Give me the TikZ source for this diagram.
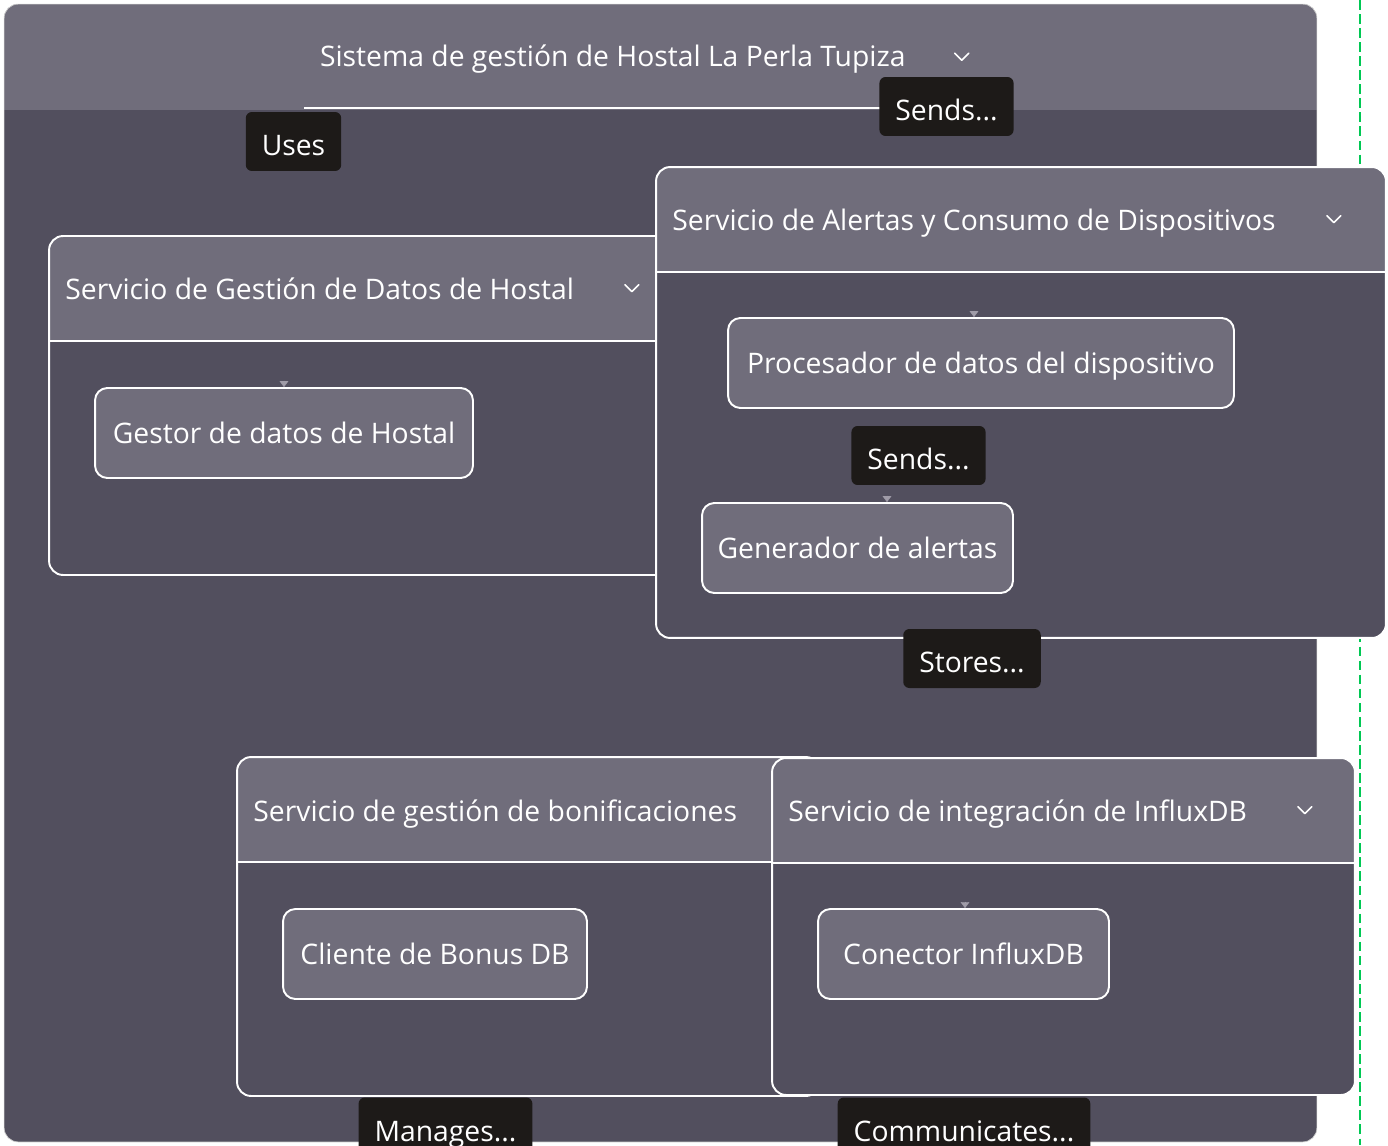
\documentclass[tikz,border=0pt]{standalone}
\usepackage{fontspec}
\setmainfont{Open Sans}
\usetikzlibrary{arrows.meta, calc}

\definecolor{hdrgray}{HTML}{706D7B}
\definecolor{bodygray}{HTML}{524F5E}
\definecolor{tagblack}{HTML}{1D1A18}
\definecolor{tipgray}{HTML}{A09CA8}
\definecolor{guidegreen}{HTML}{00C853}

\tikzset{
	chevron/.pic = {\draw[white, line width = 0.9pt, line cap = round, line join = round] (-7,-3.5) -- (0,3.5) -- (7,-3.5);}
}

\begin{document}
\begin{tikzpicture}[
			x = 0.02cm, y = -0.02cm,
			every node/.style = {font = \fontsize{16.1}{19}\selectfont, text = white, text height = 16.3pt, text depth = 4.8pt},
			systembox/.style = {fill = bodygray, rounded corners = 8pt, inner sep = 0pt,
				path picture = {
					\fill[hdrgray, sharp corners] (path picture bounding box.north west) rectangle ([yshift = -2.12cm]path picture bounding box.north east);
				}},
			groupframe/.style = {fill = bodygray, draw = white, line width = 1.1pt, rounded corners = 8pt, inner sep = 0pt,
				path picture = {
					\fill[hdrgray, sharp corners] (path picture bounding box.north west) rectangle ([yshift = -2.1cm]path picture bounding box.north east);
					\draw[white, line width = 1.1pt, sharp corners] ([yshift = -2.1cm]path picture bounding box.north west) -- ([yshift = -2.1cm]path picture bounding box.north east);
				}},
			grouptitle/.style = {anchor = west, inner sep = 0pt},
			component/.style = {draw = white, line width = 1.1pt, fill = hdrgray, rounded corners = 7pt, minimum height = 1.8cm},
			tag/.style = {fill = tagblack, rounded corners = 3.5pt, minimum height = 1.18cm, inner xsep = 0.32cm, text height = 20.8pt},
			tipmark/.style = {draw = tipgray, line width = 0.2pt, -{Triangle[length = 3.4pt, width = 5pt]}}]
	\useasboundingbox (0,0) rectangle (1388,1145);
	\clip (0,0) rectangle (1388,1145);

	% outer system
	\node[systembox, draw = white!80!black, line width = 0.4pt, minimum width = 26.26cm, minimum height = 22.76cm] (sistema) at (660.5,573) {};
	\node (sistemaTitle) at ($(sistema.north west)+(609,53)$) {Sistema de gestión de Hostal La Perla Tupiza};
	\pic at ($(sistema.north west)+(958,53)$) {chevron};

	% guide line
	\draw[guidegreen, line width = 1.1pt, dash pattern = on 5.5pt off 2.5pt] (1360,0) -- (1360,1145);

	% service groups
	\node[groupframe, minimum width = 12.68cm, minimum height = 6.78cm] (gestionDatos) at (366,405.5) {};
	\node[grouptitle] (gestionDatosTitle) at ($(gestionDatos.north west)+(17,54)$) {Servicio de Gestión de Datos de Hostal};
	\pic at ($(gestionDatos.north east)+(-52,53)$) {chevron};

	\node[groupframe, minimum width = 14.6cm, minimum height = 9.42cm] (alertas) at (1021,402.5) {};
	\node[grouptitle] (alertasTitle) at ($(alertas.north west)+(17,54)$) {Servicio de Alertas y Consumo de Dispositivos};
	\pic at ($(alertas.north east)+(-53,53)$) {chevron};

	\node[groupframe, minimum width = 11.66cm, minimum height = 6.78cm] (bonificaciones) at (528.5,926.5) {};
	\node[grouptitle] (bonificacionesTitle) at ($(bonificaciones.north west)+(17,55)$) {Servicio de gestión de bonificaciones};

	\node[groupframe, minimum width = 11.66cm, minimum height = 6.74cm] (influx) at (1063.5,926.5) {};
	\node[grouptitle] (influxTitle) at ($(influx.north west)+(17,54)$) {Servicio de integración de InfluxDB};
	\pic at ($(influx.north east)+(-51,53)$) {chevron};

	% components
	\node[component, minimum width = 7.56cm] (gestorDatos) at (284,433) {Gestor de datos de Hostal};
	\node[component, minimum width = 10.12cm] (procesador) at (981,363) {Procesador de datos del dispositivo};
	\node[component, minimum width = 6.22cm] (generador) at (857.5,548) {Generador de alertas};
	\node[component, minimum width = 6.08cm] (clienteBonus) at (435,954) {Cliente de Bonus DB};
	\node[component, minimum width = 5.82cm] (conectorInflux) at (963.5,954) {Conector InfluxDB};

	% edge ends
	\draw[tipmark] ([yshift = 0.13cm]gestorDatos.north) -- (gestorDatos.north);
	\draw[tipmark] ([xshift = -0.14cm, yshift = 0.13cm]procesador.north) -- ([xshift = -0.14cm]procesador.north);
	\draw[tipmark] ([xshift = 0.59cm, yshift = 0.13cm]generador.north) -- ([xshift = 0.59cm]generador.north);
	\draw[tipmark] ([xshift = 0.03cm, yshift = 0.13cm]conectorInflux.north) -- ([xshift = 0.03cm]conectorInflux.north);

	\coordinate (usesStart) at (304,108);
	\coordinate (sendsEnd) at (1007,108);
	\draw[white, line width = 1.1pt] (usesStart) -- (sendsEnd);

	% Labels
	\node[tag] (usesTag) at (293.5,141.5) {Uses};
	\node[tag] (sendsTop) at (946.5,106.5) {Sends...};
	\node[tag] (sendsMid) at (918.5,455.5) {Sends...};
	\node[tag] (storesTag) at (972,658.5) {Stores...};
	\node[tag] (managesTag) at (445.5,1127) {Manages...};
	\node[tag] (communicatesTag) at (964,1127) {Communicates...};
\end{tikzpicture}
\end{document}
